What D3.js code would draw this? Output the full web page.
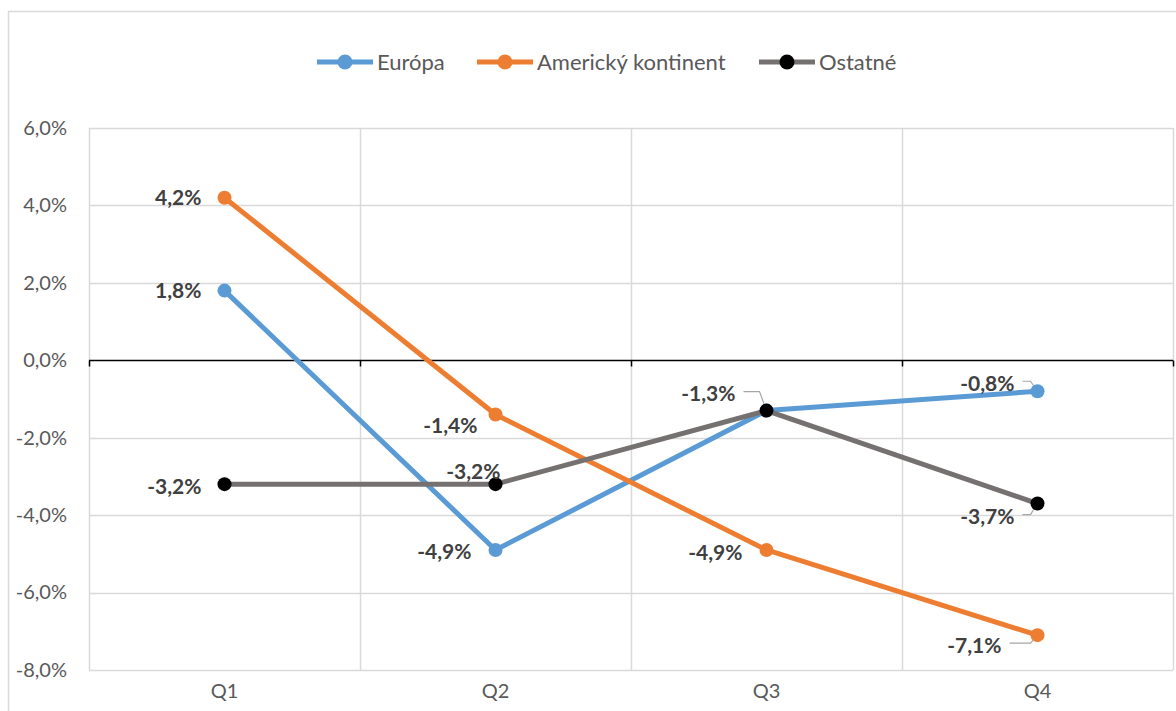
<!DOCTYPE html>
<html>
<head>
<meta charset="utf-8">
<script src="https://cdn.jsdelivr.net/npm/d3@7"></script>
<style>
  html, body { margin: 0; padding: 0; background: #fff; }
  svg { display: block; font-family: Lato, "Open Sans", sans-serif; }
</style>
</head>
<body>
<svg id="chart" width="1176" height="711"></svg>
<script>
// Quarterly year-over-year change by region (%)
const quarters = ["Q1", "Q2", "Q3", "Q4"];
const seriesNames = ["Európa", "Americký kontinent", "Ostatné"];
const europa = [1.8, -4.9, -1.3, -0.8];
const americky = [4.2, -1.4, -4.9, -7.1];
const ostatne = [-3.2, -3.2, -1.3, -3.7];
const yTicks = [6, 4, 2, 0, -2, -4, -6, -8];

// Styling for each series
const lineColors = ["#5B9BD5", "#ED7D31", "#767171"];
const markerColors = ["#5B9BD5", "#ED7D31", "#000000"];

// Data label placement (offset of label's right end from the point, leader flag)
const labelPlacement = [
  [{dx: -23, dy: 0}, {dx: -24, dy: 2}, null, {dx: -23, dy: -8, leader: true}],
  [{dx: -23, dy: 0}, {dx: -18, dy: 11}, {dx: -24, dy: 3}, {dx: -36, dy: 10, leader: true}],
  [{dx: -23, dy: 2}, {dx: 5, dy: -13}, {dx: -31, dy: -17, leader: true}, {dx: -23, dy: 13, leader: true}]
];

const seriesValues = [europa, americky, ostatne];

// Slovak-style number format: decimal comma, plain hyphen minus
const locale = d3.formatLocale({decimal: ",", thousands: " ", grouping: [3], currency: ["", " €"], minus: "-"});
const pct = v => locale.format(".1f")(v) + "%";

const svg = d3.select("#chart");
const plot = {left: 89, right: 1173, top: 128, bottom: 670};

// Chart frame
svg.append("rect")
  .attr("x", 8.5).attr("y", 11.5)
  .attr("width", 1200).attr("height", 720)
  .attr("fill", "#fff").attr("stroke", "#D9D9D9").attr("stroke-width", 1.5);

const x = d3.scaleBand().domain(quarters).range([plot.left, plot.right]).padding(0);
const y = d3.scaleLinear().domain([-8, 6]).range([plot.bottom, plot.top]);

// Horizontal gridlines
svg.append("g").selectAll("line")
  .data(yTicks.filter(t => t !== 0))
  .join("line")
  .attr("x1", plot.left).attr("x2", plot.right)
  .attr("y1", d => Math.round(y(d)) + 0.5).attr("y2", d => Math.round(y(d)) + 0.5)
  .attr("stroke", "#D9D9D9").attr("stroke-width", 1.5);

// Vertical gridlines at category boundaries
const bounds = quarters.map(q => x(q)).concat([plot.right]);
svg.append("g").selectAll("line")
  .data(bounds)
  .join("line")
  .attr("x1", d => Math.round(d) + 0.5).attr("x2", d => Math.round(d) + 0.5)
  .attr("y1", plot.top).attr("y2", plot.bottom)
  .attr("stroke", "#D9D9D9").attr("stroke-width", 1.5);

// Y axis labels
const yAxis = d3.axisLeft(y).tickValues(yTicks).tickSize(0).tickPadding(22)
  .tickFormat(pct);
svg.append("g")
  .attr("transform", `translate(${plot.left},0)`)
  .call(yAxis)
  .call(g => g.select(".domain").remove())
  .call(g => g.selectAll("text")
    .attr("fill", "#595959").attr("font-size", 20)
    .attr("font-family", "Lato, 'Open Sans', sans-serif"));

// Category axis line at zero, with tick marks at boundaries
const zeroY = Math.round(y(0)) + 0.5;
svg.append("line")
  .attr("x1", plot.left).attr("x2", plot.right)
  .attr("y1", zeroY).attr("y2", zeroY)
  .attr("stroke", "#000").attr("stroke-width", 1.5);
svg.append("g").selectAll("line")
  .data(bounds)
  .join("line")
  .attr("x1", d => Math.round(d) + 0.5).attr("x2", d => Math.round(d) + 0.5)
  .attr("y1", zeroY).attr("y2", zeroY + 6)
  .attr("stroke", "#000").attr("stroke-width", 1.5);

// Category labels along the bottom
const xAxis = d3.axisBottom(x).tickSize(0).tickPadding(14);
svg.append("g")
  .attr("transform", `translate(0,${plot.bottom})`)
  .call(xAxis)
  .call(g => g.select(".domain").remove())
  .call(g => g.selectAll("text")
    .attr("fill", "#595959").attr("font-size", 20)
    .attr("font-family", "Lato, 'Open Sans', sans-serif"));

const cx = q => x(q) + x.bandwidth() / 2;
const line = d3.line().x((d, i) => cx(quarters[i])).y(d => y(d));

// Series lines
seriesValues.forEach((vals, s) => {
  svg.append("path")
    .datum(vals)
    .attr("d", line)
    .attr("fill", "none")
    .attr("stroke", lineColors[s])
    .attr("stroke-width", 5)
    .attr("stroke-linejoin", "round");
});

// Leader lines for labels placed away from their points
seriesValues.forEach((vals, s) => {
  vals.forEach((v, i) => {
    const p = labelPlacement[s][i];
    if (!p || !p.leader) return;
    const px = cx(quarters[i]), py = y(v);
    const lx = px + p.dx + 8, ly = py + p.dy - 2;
    svg.append("path")
      .attr("d", d3.line()([[lx, ly], [px - 7, ly], [px, py]]))
      .attr("fill", "none").attr("stroke", "#A6A6A6").attr("stroke-width", 1.2);
  });
});

// Markers
seriesValues.forEach((vals, s) => {
  svg.append("g").selectAll("circle")
    .data(vals)
    .join("circle")
    .attr("cx", (d, i) => cx(quarters[i]))
    .attr("cy", d => y(d))
    .attr("r", 7)
    .attr("fill", markerColors[s]);
});

// Data labels
seriesValues.forEach((vals, s) => {
  vals.forEach((v, i) => {
    const p = labelPlacement[s][i];
    if (!p) return;
    svg.append("text")
      .attr("x", cx(quarters[i]) + p.dx)
      .attr("y", y(v) + p.dy)
      .attr("dy", "0.35em")
      .attr("text-anchor", "end")
      .attr("font-size", 21).attr("font-weight", "bold")
      .attr("fill", "#404040")
      .text(pct(v));
  });
});

// Legend
const legendItems = [
  {x: 317, name: seriesNames[0], s: 0},
  {x: 477, name: seriesNames[1], s: 1},
  {x: 759, name: seriesNames[2], s: 2}
];
const lg = svg.append("g");
legendItems.forEach(it => {
  const g = lg.append("g").attr("transform", `translate(${it.x},62)`);
  g.append("line").attr("x1", 0).attr("x2", 56).attr("y1", 0).attr("y2", 0)
    .attr("stroke", lineColors[it.s]).attr("stroke-width", 5);
  g.append("circle").attr("cx", 28).attr("cy", 0).attr("r", 7.5)
    .attr("fill", markerColors[it.s]);
  g.append("text").attr("x", 60).attr("y", 0).attr("dy", "0.35em")
    .attr("font-size", 22).attr("fill", "#595959").text(it.name);
});
</script>
</body>
</html>
